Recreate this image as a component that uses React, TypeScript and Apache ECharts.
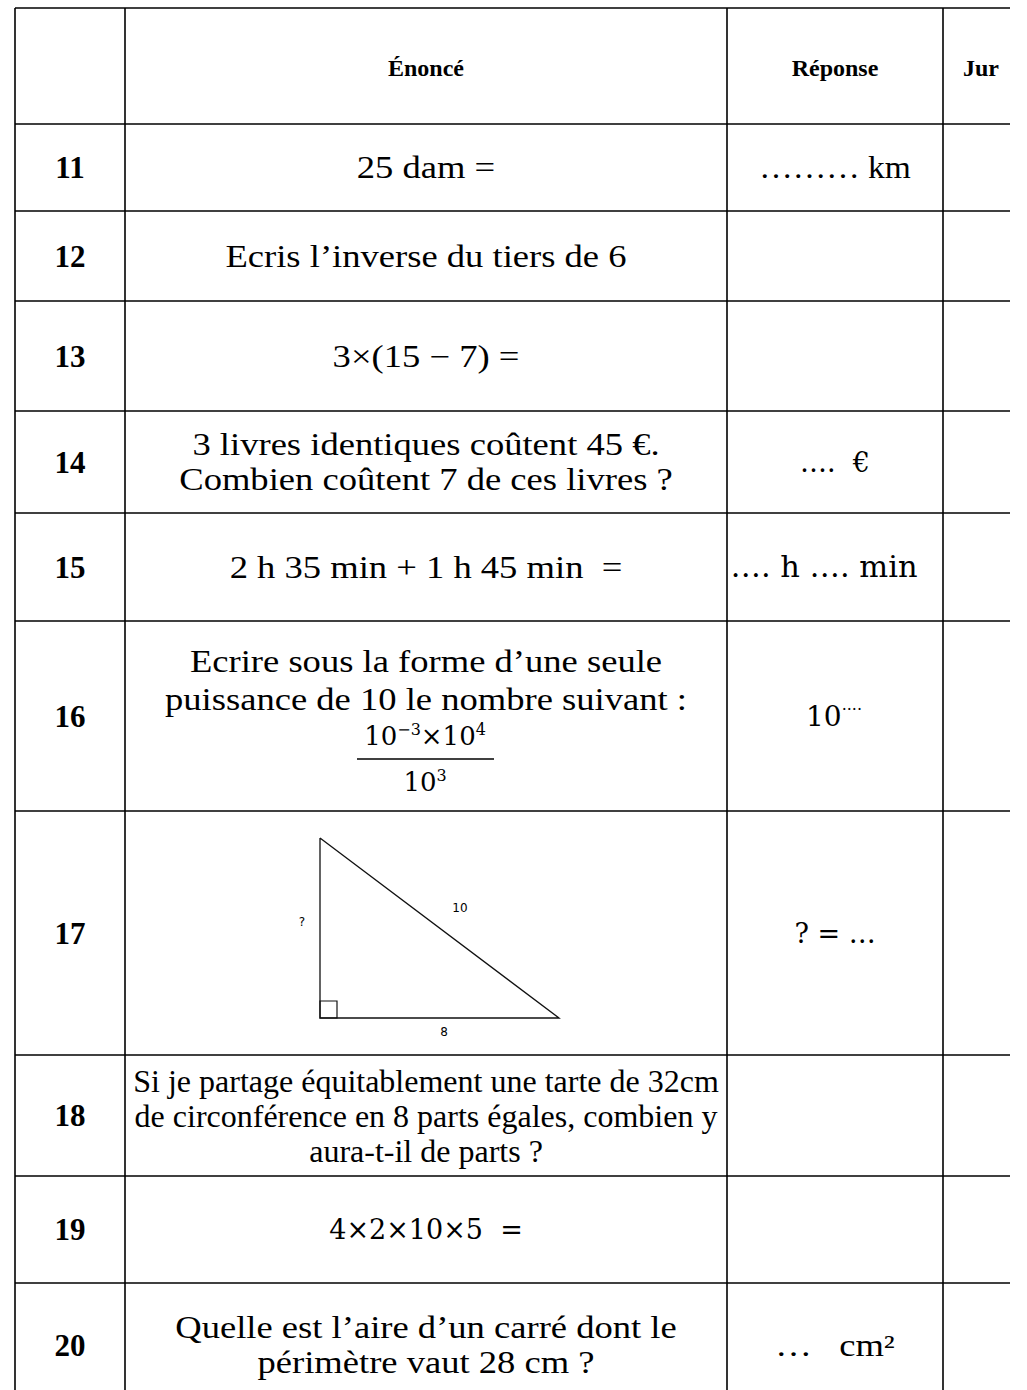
import React, { useEffect, useRef } from "react";
import * as echarts from "echarts";

// ---- Content ----
const ROW_LABELS = ["11", "12", "13", "14", "15", "16", "17", "18", "19", "20"];
const HEADERS = ["Énoncé", "Réponse", "Jur"];
const STATEMENTS: string[][] = [
  ["25 dam ="],
  ["Ecris l’inverse du tiers de 6"],
  ["3×(15 − 7) ="],
  ["3 livres identiques coûtent 45 €.", "Combien coûtent 7 de ces livres ?"],
  ["2 h 35 min + 1 h 45 min  ="],
  ["Ecrire sous la forme d’une seule", "puissance de 10 le nombre suivant :"],
  [],
  [
    "Si je partage équitablement une tarte de 32cm",
    "de circonférence en 8 parts égales, combien y",
    "aura-t-il de parts ?",
  ],
  ["4×2×10×5  ="],
  ["Quelle est l’aire d’un carré dont le", "périmètre vaut 28 cm ?"],
];
const STATEMENT_FONTS = ["cm", "cm", "cm", "cm", "cm", "cm", "cm", "times", "math", "cm"];
const ANSWERS = ["……… km", "", "", "….  €", "…. h …. min", "", "? = …", "", "", "…   cm²"];
const ANSWER_FONTS = ["cmAns", "cm", "cm", "math", "mathWide", "math", "math", "cm", "cm", "cm"];
const ANSWER_DX = [0, 0, 0, 0, -11, 0, 0, 0, 0, 0];
const FRACTION_NUM = ["10", "−3", "×10", "4"];
const FRACTION_DEN = ["10", "3"];
const POWER_ANSWER = ["10", "····"];
const TRIANGLE_LABELS = ["?", "10", "8"];

// ---- Layout ----
const COL_X = [15, 125, 727, 943];
const RIGHT_EDGE = 1010;
const ROW_Y = [8, 124, 211, 301, 411, 513, 621, 811, 1055, 1176, 1283, 1390];
const ROW_CENTER_OVERRIDE: Record<number, number> = { 9: 1345 };
const LINE_GAP = 35;

const FONTS: Record<string, any> = {
  cm: { fontFamily: "Liberation Serif", fontSize: 31, scaleX: 1.18 },
  cmAns: { fontFamily: "Liberation Serif", fontSize: 31, scaleX: 1.08 },
  times: { fontFamily: "Liberation Serif", fontSize: 32, scaleX: 1 },
  math: { fontFamily: "DejaVu Serif", fontSize: 27, scaleX: 1 },
  mathWide: { fontFamily: "DejaVu Serif", fontSize: 29, scaleX: 1.05 },
};

function textEl(text: string, x: number, y: number, font: any, extra: any = {}) {
  return {
    type: "text",
    x,
    y,
    scaleX: font.scaleX ?? 1,
    silent: true,
    style: {
      text,
      x: 0,
      y: 0,
      fill: "#000",
      fontFamily: font.fontFamily,
      fontSize: font.fontSize,
      fontWeight: font.fontWeight ?? "normal",
      align: extra.align ?? "center",
      verticalAlign: "middle",
    },
  };
}

function lineEl(x1: number, y1: number, x2: number, y2: number, w = 1.6, color = "#000") {
  return {
    type: "line",
    silent: true,
    shape: { x1, y1, x2, y2 },
    style: { stroke: color, lineWidth: w },
  };
}

function powerText(parts: string[], x: number, y: number, baseSize: number, supSize: number, baseLH: number, supLH: number) {
  const fam = "DejaVu Serif";
  const text = parts.map((p, i) => (i % 2 === 0 ? `{b|${p}}` : `{s|${p}}`)).join("");
  return {
    type: "text",
    x,
    y,
    silent: true,
    style: {
      text,
      align: "center",
      verticalAlign: "middle",
      fill: "#000",
      rich: {
        b: { fontFamily: fam, fontSize: baseSize, lineHeight: baseLH, fill: "#000" },
        s: { fontFamily: fam, fontSize: supSize, lineHeight: supLH, verticalAlign: "top", fill: "#000" },
      },
    },
  };
}

function buildElements() {
  const els: any[] = [];
  // grid lines
  ROW_Y.slice(0, -1).forEach((y) => els.push(lineEl(COL_X[0], y, RIGHT_EDGE, y)));
  COL_X.forEach((x) => els.push(lineEl(x, ROW_Y[0], x, ROW_Y[ROW_Y.length - 1])));

  // headers
  const headerY = (ROW_Y[0] + ROW_Y[1]) / 2 + 2;
  const hFont = { fontFamily: "Liberation Serif", fontSize: 24, fontWeight: "bold" };
  els.push(textEl(HEADERS[0], (COL_X[1] + COL_X[2]) / 2, headerY, hFont));
  els.push(textEl(HEADERS[1], (COL_X[2] + COL_X[3]) / 2, headerY, hFont));
  els.push(textEl(HEADERS[2], COL_X[3] + 20, headerY, hFont, { align: "left" }));

  const numFont = { fontFamily: "Liberation Serif", fontSize: 31, fontWeight: "bold" };
  const stmtX = (COL_X[1] + COL_X[2]) / 2;
  const ansX = (COL_X[2] + COL_X[3]) / 2;

  ROW_LABELS.forEach((label, i) => {
    const top = ROW_Y[i + 1];
    const bottom = ROW_Y[i + 2];
    const cy = ROW_CENTER_OVERRIDE[i] ?? (top + bottom) / 2;
    els.push(textEl(label, (COL_X[0] + COL_X[1]) / 2, cy, numFont));

    const lines = STATEMENTS[i];
    const font = FONTS[STATEMENT_FONTS[i]];
    if (i === 5) {
      els.push(textEl(lines[0], stmtX, 661, font));
      els.push(textEl(lines[1], stmtX, 699, font));
    } else {
      lines.forEach((ln, k) => {
        const y = cy + (k - (lines.length - 1) / 2) * LINE_GAP;
        els.push(textEl(ln, stmtX, y, font));
      });
    }

    if (ANSWERS[i]) {
      const af = FONTS[ANSWER_FONTS[i]];
      els.push(textEl(ANSWERS[i], ansX + ANSWER_DX[i], cy, af));
    }
  });

  // Fraction (row 16)
  els.push(powerText(FRACTION_NUM, 425, 736, 26, 16, 30, 18));
  els.push(lineEl(357, 759, 494, 759, 1.6));
  els.push(powerText(FRACTION_DEN, 425, 782, 26, 16, 30, 18));

  // Power answer (row 16)
  els.push(powerText(POWER_ANSWER, 834, 716, 28, 16, 30, 26));

  // Triangle (row 17)
  els.push({
    type: "polyline",
    silent: true,
    shape: { points: [[320, 838], [320, 1018], [559, 1018], [320, 838]] },
    style: { stroke: "#111", lineWidth: 1.3, fill: null },
  });
  els.push({
    type: "rect",
    silent: true,
    shape: { x: 320, y: 1001, width: 17, height: 17 },
    style: { stroke: "#111", lineWidth: 1.2, fill: null },
  });
  const smallFont = { fontFamily: "DejaVu Sans", fontSize: 12 };
  els.push(textEl(TRIANGLE_LABELS[0], 302, 922, smallFont));
  els.push(textEl(TRIANGLE_LABELS[1], 460, 908, smallFont));
  els.push(textEl(TRIANGLE_LABELS[2], 444, 1032, smallFont));

  return els;
}

export default function App() {
  const ref = useRef<HTMLDivElement>(null);
  useEffect(() => {
    if (!ref.current) return;
    const chart = echarts.init(ref.current, null, { renderer: "svg" });
    chart.setOption({
      animation: false,
      backgroundColor: "#fff",
      graphic: { elements: buildElements() },
    });
    return () => chart.dispose();
  }, []);
  return (
    <div
      ref={ref}
      style={{ position: "absolute", left: 0, top: 0, width: 1027, height: 1390, background: "#fff" }}
    />
  );
}
